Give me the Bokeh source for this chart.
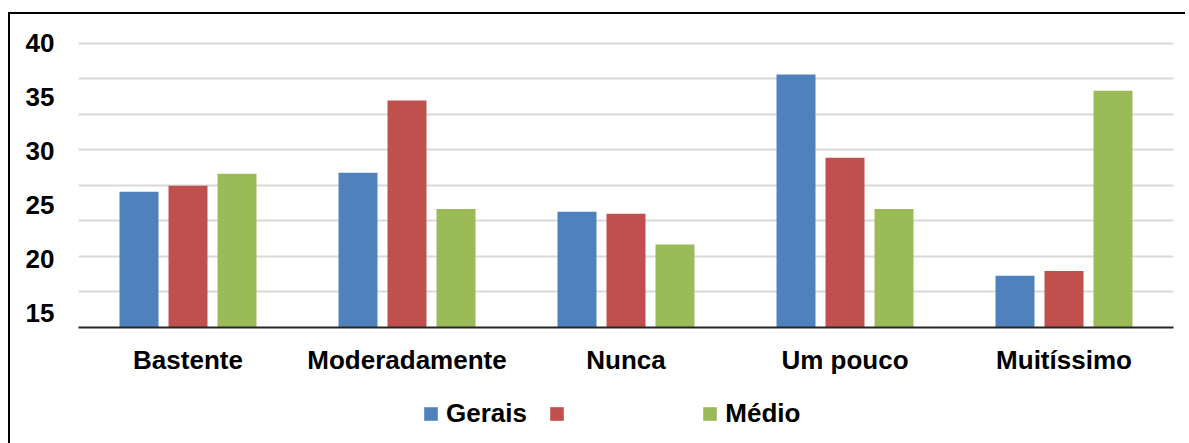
from bokeh.plotting import figure
from bokeh.layouts import column
from bokeh.models import (FactorRange, FixedTicker, Legend, LegendItem, Range1d,
                          ColumnDataSource)
from bokeh.transform import dodge
from bokeh.embed import file_html
from bokeh.resources import INLINE

categories = ["Bastente", "Moderadamente", "Nunca", "Um pouco", "Muitíssimo"]
gerais = [26.25, 28.0, 24.4, 37.1, 18.45]
serie2 = [26.8, 34.7, 24.2, 29.4, 18.9]
medio = [27.9, 24.65, 21.35, 24.65, 35.6]
y_labels = [15, 20, 25, 30, 35, 40]
series_names = ["Gerais", "\u00a0" * 15, "Médio"]
colors = ["#4F81BD", "#C0504D", "#9BBB59"]

Y_START, Y_TOP_GRID, Y_END = 13.665, 40.0, 41.18
FONT = "Liberation Sans"

src = ColumnDataSource(dict(cat=categories, gerais=gerais, serie2=serie2, medio=medio))

p = figure(x_range=FactorRange(*categories, range_padding=0),
           y_range=Range1d(Y_START, Y_END),
           width=1175, height=363,
           min_border_left=68, min_border_right=12,
           min_border_top=16, min_border_bottom=50,
           output_backend="svg", toolbar_location=None)
p.outline_line_color = None
p.background_fill_color = "white"
p.border_fill_color = "white"

offsets = [-0.2237, 0.0, 0.2237]
keys = ["gerais", "serie2", "medio"]
for key, off, col in zip(keys, offsets, colors):
    p.vbar(x=dodge("cat", off, range=p.x_range), top=key, bottom=Y_START,
           width=0.178, source=src, fill_color=col, line_color=None)

# axes
p.yaxis.ticker = FixedTicker(ticks=y_labels)
p.yaxis.axis_line_color = None
p.yaxis.major_tick_line_color = None
p.yaxis.minor_tick_line_color = None
p.yaxis.major_label_standoff = 18
p.yaxis.major_label_text_font = FONT
p.yaxis.major_label_text_font_size = "26px"
p.yaxis.major_label_text_font_style = "bold"
p.yaxis.major_label_text_color = "black"

p.xaxis.axis_line_color = "#262626"
p.xaxis.axis_line_width = 2
p.xaxis.major_tick_line_color = None
p.xaxis.minor_tick_line_color = None
p.xaxis.major_label_standoff = 11
p.xaxis.major_label_text_font = FONT
p.xaxis.major_label_text_font_size = "26px"
p.xaxis.major_label_text_font_style = "bold"
p.xaxis.major_label_text_color = "black"

# grid
p.xgrid.visible = False
p.ygrid.ticker = FixedTicker(ticks=[Y_TOP_GRID - k * (Y_TOP_GRID - Y_START) / 8 for k in range(8)])
p.ygrid.grid_line_color = "#d9d9d9"
p.ygrid.grid_line_width = 2

# legend strip (separate figure below the chart; hidden proxy renderers)
p2 = figure(x_range=FactorRange(*categories, range_padding=0), y_range=Range1d(0, 1),
            width=1175, height=66, min_border=0,
            x_axis_location=None, y_axis_location=None,
            output_backend="svg", toolbar_location=None)
p2.outline_line_color = None
p2.grid.visible = False
p2.border_fill_color = "white"
proxies = []
for key, off, col in zip(keys, offsets, colors):
    r = p2.vbar(x=dodge("cat", off, range=p2.x_range), top=key, bottom=key,
                width=0.178, source=src, fill_color=col, line_color=None)
    r.visible = False
    proxies.append(r)

legend = Legend(items=[LegendItem(label=n, renderers=[r]) for n, r in zip(series_names, proxies)],
                orientation="horizontal", location=(344, 14),
                glyph_width=17, glyph_height=17, label_standoff=7, spacing=21,
                padding=0, margin=0, border_line_color=None,
                background_fill_alpha=0,
                inactive_fill_alpha=0,
                label_text_font=FONT, label_text_font_size="26px",
                label_text_font_style="bold", label_text_color="black")
p2.add_layout(legend, "center")

layout = column(p, p2, spacing=0)
layout.styles = {"border-top": "2px solid #000", "border-left": "2px solid #000",
                 "margin-top": "12px", "margin-left": "8px"}

open("out.html", "w").write(file_html(layout, INLINE))
